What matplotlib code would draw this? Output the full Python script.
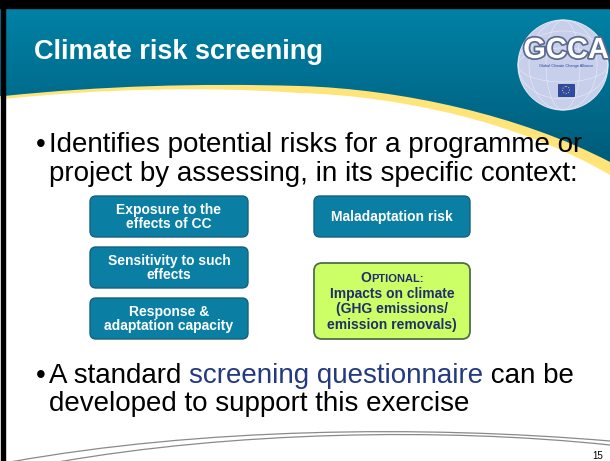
import numpy as np
import matplotlib
matplotlib.use("Agg")
import matplotlib.pyplot as plt
from matplotlib.path import Path
from matplotlib.patches import PathPatch, FancyBboxPatch, Rectangle, Circle, Ellipse
import matplotlib.patheffects as pe

plt.rcParams['font.family'] = ['Liberation Sans', 'DejaVu Sans']

# slide content
title = "Climate risk screening"
bullet1 = ["Identifies potential risks for a programme or",
           "project by assessing, in its specific context:"]
bullet2_pre = "A standard "
bullet2_link = "screening questionnaire"
bullet2_post = " can be"
bullet2_line2 = "developed to support this exercise"
left_boxes = ["Exposure to the\neffects of CC",
              "Sensitivity to such\neffects",
              "Response &\nadaptation capacity"]
right_box = "Maladaptation risk"
optional_lines = ["Impacts on climate", "(GHG emissions/", "emission removals)"]
page_no = "15"

W, H = 610, 461
fig = plt.figure(figsize=(W / 100, H / 100), dpi=100)
ax = fig.add_axes([0, 0, 1, 1])
ax.set_xlim(0, W)
ax.set_ylim(H, 0)
ax.axis('off')

C4 = Path.CURVE4

# yellow swoosh under the header
yel = Path([(0, 0), (W, 0), (W, 175), (520, 122), (400, 96), (300, 93),
            (200, 86), (100, 89), (4, 99), (0, 99), (0, 0)],
           [Path.MOVETO, Path.LINETO, Path.LINETO, C4, C4, C4, C4, C4, C4,
            Path.LINETO, Path.CLOSEPOLY])
ax.add_patch(PathPatch(yel, facecolor='#FFE47A', edgecolor='none', zorder=1))

# teal header with vertical gradient
hdr = Path([(0, 0), (W, 0), (W, 162), (520, 115), (400, 89), (300, 86),
            (200, 83), (100, 86), (4, 96), (0, 96), (0, 0)],
           [Path.MOVETO, Path.LINETO, Path.LINETO, C4, C4, C4, C4, C4, C4,
            Path.LINETO, Path.CLOSEPOLY])
hp = PathPatch(hdr, facecolor='none', edgecolor='none')
ax.add_patch(hp)
top = np.array([0x00, 0x84, 0xA8]) / 255
bot = np.array([0x00, 0x57, 0x75]) / 255
g = np.linspace(0, 1, 200)[:, None, None]
grad = top * (1 - g) + bot * g
im = ax.imshow(grad, extent=[0, W, 180, 0], aspect='auto', zorder=2)
im.set_clip_path(hp)

# black frame top/left
ax.add_patch(Rectangle((0, 0), W, 8, color='black', zorder=5))
ax.add_patch(Rectangle((1, 0), 3.5, H, color='black', zorder=5))

ax.text(34, 59, title, color='white', fontsize=19.5, fontweight='bold',
        va='baseline', ha='left', zorder=6)

# GCCA logo
lcx, lcy, lr = 563, 65, 45
ax.add_patch(Circle((lcx, lcy), lr, facecolor='#C7CFEA', edgecolor='#DDE3F5',
                    lw=0.8, zorder=6))
for w in [34, 68]:
    ax.add_patch(Ellipse((lcx, lcy), w, 2 * lr, facecolor='none', edgecolor='white',
                         lw=0.4, alpha=0.6, zorder=6))
for hh in [34, 68]:
    ax.add_patch(Ellipse((lcx, lcy), 2 * lr, hh, facecolor='none', edgecolor='white',
                         lw=0.4, alpha=0.6, zorder=6))
ax.text(566, 58, "GCCA", color='white', fontsize=21, fontweight='bold',
        ha='center', va='baseline', zorder=7,
        path_effects=[pe.withStroke(linewidth=2.5, foreground='#5B6890')])
ax.text(566, 66, "Global Climate Change Alliance", color='#2C47A0', fontsize=2.8,
        ha='center', va='center', zorder=7)
ax.add_patch(Rectangle((558, 84), 16, 12, facecolor='#2D4CA8', edgecolor='#1B2B6B',
                       lw=0.5, zorder=7))
ax.add_patch(Circle((566, 90), 3.5, facecolor='none', edgecolor='#F3D34A',
                    lw=0.7, ls=':', zorder=8))

# bullets
fs = 20
ax.text(36, 152, "\u2022", fontsize=fs, va='baseline', ha='left', color='black')
ax.text(49, 152, bullet1[0], fontsize=fs, va='baseline', ha='left', color='black')
ax.text(49, 181, bullet1[1], fontsize=fs, va='baseline', ha='left', color='black')

ax.text(36, 383, "\u2022", fontsize=fs, va='baseline', ha='left', color='black')
t1 = ax.text(49, 383, bullet2_pre, fontsize=fs, va='baseline', ha='left', color='black')
fig.canvas.draw()
r = fig.canvas.get_renderer()
x2 = 49 + t1.get_window_extent(r).width
t2 = ax.text(x2, 383, bullet2_link, fontsize=fs, va='baseline', ha='left', color='#233A80')
x3 = x2 + t2.get_window_extent(r).width
ax.text(x3, 383, bullet2_post, fontsize=fs, va='baseline', ha='left', color='black')
ax.text(49, 411, bullet2_line2, fontsize=fs, va='baseline', ha='left', color='black')

# boxes
teal_box = '#0A7FA3'
teal_edge = '#17607A'
lx, lw_ = 90, 158
tops = [196, 247, 298]
for y0, lab in zip(tops, left_boxes):
    ax.add_patch(FancyBboxPatch((lx, y0), lw_, 41, boxstyle='round,pad=0,rounding_size=6',
                                facecolor=teal_box, edgecolor=teal_edge, lw=1, zorder=3))
    ax.text(lx + lw_ / 2, y0 + 21, lab, color='white', fontsize=10, fontweight='bold',
            ha='center', va='center', linespacing=1.05, zorder=4)

rx, rw = 314, 156
ax.add_patch(FancyBboxPatch((rx, 196), rw, 41, boxstyle='round,pad=0,rounding_size=6',
                            facecolor=teal_box, edgecolor=teal_edge, lw=1, zorder=3))
ax.text(rx + rw / 2, 217, right_box, color='white', fontsize=10, fontweight='bold',
        ha='center', va='center', zorder=4)

ax.add_patch(FancyBboxPatch((rx, 263), rw, 76, boxstyle='round,pad=0,rounding_size=8',
                            facecolor='#CCFF66', edgecolor='#4E6E45', lw=1.3, zorder=3))
navy = '#1E2F6C'
cx = rx + rw / 2
o1 = ax.text(0, 282, "O", color=navy, fontsize=10, fontweight='bold', va='baseline', zorder=4)
o2 = ax.text(0, 282, "PTIONAL:", color=navy, fontsize=8, fontweight='bold', va='baseline', zorder=4)
w1 = o1.get_window_extent(r).width
w2 = o2.get_window_extent(r).width
o1.set_x(cx - (w1 + w2) / 2)
o2.set_x(cx - (w1 + w2) / 2 + w1)
for i, line in enumerate(optional_lines):
    ax.text(cx, 298 + i * 15.3, line, color=navy, fontsize=10, fontweight='bold',
            ha='center', va='baseline', zorder=4)

# bottom decorative lines
for pts in [[(10, 462), (200, 428), (420, 425), (610, 441)],
            [(58, 462), (230, 432), (440, 427), (610, 445)]]:
    ax.add_patch(PathPatch(Path(pts, [Path.MOVETO, C4, C4, C4]), facecolor='none',
                           edgecolor='#8A8A8A', lw=0.9, zorder=3))

ax.text(598, 459, page_no, fontsize=7, ha='center', va='baseline', color='black')

fig.savefig("out.png", dpi=100)
